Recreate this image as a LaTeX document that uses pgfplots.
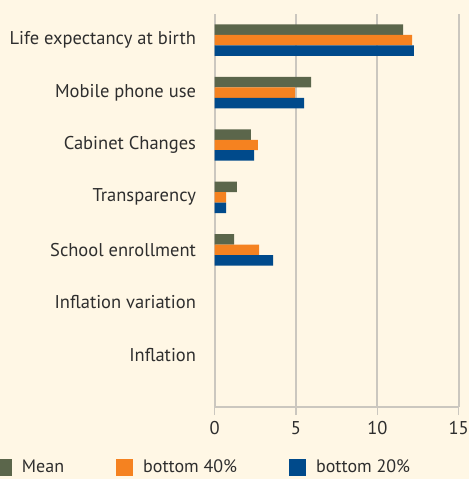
\documentclass[border=0pt]{standalone}
\usepackage{fontspec}
\setmainfont{PT Sans}
\usepackage{pgfplots}
\pgfplotsset{compat=1.18}

\definecolor{bgc}{HTML}{FFF7E5}
\definecolor{meanc}{HTML}{5B664B}
\definecolor{b40c}{HTML}{F58220}
\definecolor{b20c}{HTML}{004A8B}
\definecolor{gridc}{HTML}{CBC7BF}
\definecolor{txtc}{HTML}{2E2E2E}

\begin{document}
\begin{tikzpicture}
\fill[bgc] (0,0) rectangle (469pt,479pt);
\useasboundingbox (0,0) rectangle (469pt,479pt);
\begin{axis}[
    at={(214.7pt,72pt)}, anchor=south west,
    width=244pt, height=393pt, scale only axis,
    xbar, bar width=0.2,
    xmin=0, xmax=15,
    ymin=-0.5, ymax=7,
    y dir=reverse,
    xtick={0,5,10,15},
    ytick={0,1,2,3,4,5,6},
    yticklabels={Life expectancy at birth, Mobile phone use, Cabinet Changes,
        Transparency, School enrollment, Inflation variation, Inflation},
    axis x line*=bottom,
    x axis line style={draw=gridc, line width=1.8pt},
    axis y line*=left,
    y axis line style={draw=none},
    xmajorgrids=true,
    grid style={draw=gridc, line width=1.8pt},
    tick align=outside,
    major tick length=8pt,
    x tick style={draw=gridc, line width=1.4pt},
    y tick style={draw=none},
    font=\fontsize{18.5pt}{22pt}\selectfont,
    tick label style={text=txtc, font=\fontsize{18.5pt}{22pt}\selectfont},
    /pgf/number format/assume math mode=true,
    yticklabel style={inner sep=0pt, xshift=-10.5pt},
    xticklabel style={yshift=-3pt},
    legend columns=3,
    legend style={at={(-0.9004,-0.153)}, anchor=west, draw=none, fill=none,
        inner sep=0pt, outer sep=0pt,
        /tikz/every odd column/.append style={column sep=8pt},
        /tikz/every even column/.append style={column sep=50pt},
        font=\fontsize{18pt}{20pt}\selectfont, text=txtc},
    legend image code/.code={\fill[#1, draw=none] (0pt,-8.5pt) rectangle (17pt,8.5pt);},
]
\addplot[fill=meanc, draw=none, bar shift=-0.2] coordinates {
    (11.58,0) (5.92,1) (2.23,2) (1.37,3) (1.19,4)};
\addplot[fill=b40c, draw=none, bar shift=0] coordinates {
    (12.13,0) (4.94,1) (2.66,2) (0.70,3) (2.73,4)};
\addplot[fill=b20c, draw=none, bar shift=0.2] coordinates {
    (12.25,0) (5.49,1) (2.42,2) (0.70,3) (3.59,4)};
\legend{Mean, bottom 40\%, bottom 20\%}
\end{axis}
\end{tikzpicture}
\end{document}
